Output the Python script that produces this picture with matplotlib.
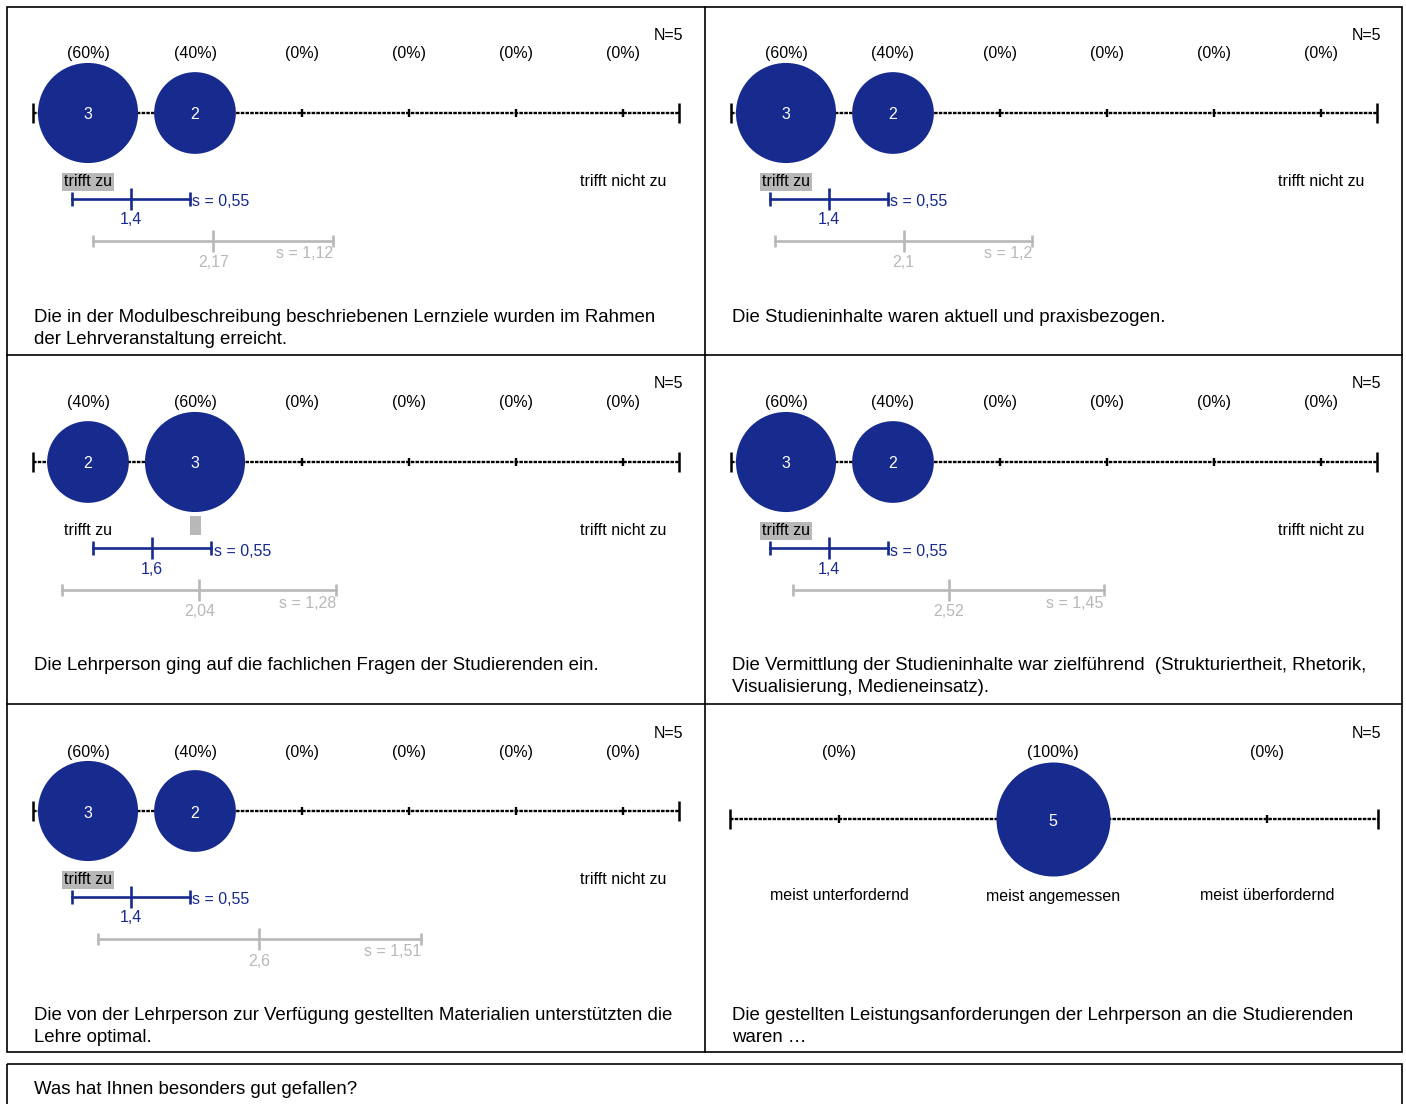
import matplotlib
matplotlib.use('Agg')
import matplotlib.pyplot as plt
from matplotlib.patches import Rectangle
import numpy as np

plt.rcParams['font.family'] = ['Liberation Sans', 'DejaVu Sans']

# ---- data ----
questions = [
    'Die in der Modulbeschreibung beschriebenen Lernziele wurden im Rahmen\nder Lehrveranstaltung erreicht.',
    'Die Studieninhalte waren aktuell und praxisbezogen.',
    'Die Lehrperson ging auf die fachlichen Fragen der Studierenden ein.',
    'Die Vermittlung der Studieninhalte war zielführend  (Strukturiertheit, Rhetorik,\nVisualisierung, Medieneinsatz).',
    'Die von der Lehrperson zur Verfügung gestellten Materialien unterstützten die\nLehre optimal.',
    'Die gestellten Leistungsanforderungen der Lehrperson an die Studierenden\nwaren \u2026',
]
labels6 = ['trifft zu', '', '', '', '', 'trifft nicht zu']
labels3 = ['meist unterfordernd', 'meist angemessen', 'meist überfordernd']
counts = [
    [3, 2, 0, 0, 0, 0],
    [3, 2, 0, 0, 0, 0],
    [2, 3, 0, 0, 0, 0],
    [3, 2, 0, 0, 0, 0],
    [3, 2, 0, 0, 0, 0],
    [0, 5, 0],
]
means = [1.4, 1.4, 1.6, 1.4, 1.4, None]
sds = [0.55, 0.55, 0.55, 0.55, 0.55, None]
cmp_means = [2.17, 2.1, 2.04, 2.52, 2.6, None]
cmp_sds = [1.12, 1.2, 1.28, 1.45, 1.51, None]
open_question = 'Was hat Ihnen besonders gut gefallen?'

BLUE = '#172a8e'
GREY = '#b8b8b8'
W, H = 1406, 1104
FS = 11.5
QFS = 13.4
DY = 2  # small vertical nudge for centred text


def fmt(v):
    return ('%g' % v).replace('.', ',')


fig = plt.figure(figsize=(W / 100, H / 100), dpi=100)
bg = fig.add_axes([0, 0, 1, 1])
bg.set_xlim(0, W)
bg.set_ylim(H, 0)
bg.axis('off')

# panel frames
bg.add_patch(Rectangle((7, 7), 1395, 1045, fill=False, lw=1.2, color='k'))
bg.plot([705, 705], [7, 1052], color='k', lw=1.2)
for yy in [355, 704]:
    bg.plot([7, 1402], [yy, yy], color='k', lw=1.2)
bg.add_patch(Rectangle((7, 1064), 1395, 80, fill=False, lw=1.2, color='k'))
bg.text(34, 1089, open_question, fontsize=QFS, va='center', ha='left')

col_x = [7, 705]
row_y = [7, 356, 705]
pw, ph = 698, 348

for i in range(6):
    x0 = col_x[i % 2]
    y0 = row_y[i // 2]
    c = np.array(counts[i])
    n = len(c)
    tot = c.sum()
    cats = np.arange(1, n + 1)
    if n == 6:
        first, step, k, yline, ylab = 81, 107, 28.9, 106, 173
        labs = labels6
    else:
        first, step, k, yline, ylab = 134, 214, 25.5, 114, 189
        labs = labels3

    ax = fig.add_axes([x0 / W, 1 - (y0 + ph) / H, pw / W, ph / H])
    ax.set_xlim(1 - first / step, 1 + (pw - first) / step)
    ax.set_ylim(ph, 0)
    ax.axis('off')

    # scale line
    ax.plot([0.49, n + 0.52], [yline, yline], color='k', lw=1.7,
            dashes=(1.5, 0.5), zorder=1)
    ax.plot(cats, [yline] * n, ls='none', marker='|', ms=6, mew=1.7,
            color='k', zorder=1)
    ax.plot([0.49, n + 0.52], [yline, yline], ls='none', marker='|', ms=15,
            mew=1.8, color='k', zorder=1)

    # bubbles
    nz = c > 0
    diam = 2 * k * np.sqrt(c[nz])
    ax.scatter(cats[nz], [yline] * nz.sum(), s=(diam * 0.72) ** 2,
               color=BLUE, linewidths=0, zorder=3)
    for xc, cnt in zip(cats[nz], c[nz]):
        ax.text(xc, yline + DY, str(cnt), color='white', fontsize=FS,
                ha='center', va='center', zorder=4)

    # percentages and N
    for xc, cnt in zip(cats, c):
        ax.text(xc, 45 + DY, '(%d%%)' % round(100 * cnt / tot), fontsize=FS,
                ha='center', va='center')
    bg.text(x0 + 676, y0 + 26 + DY, 'N=%d' % tot, fontsize=FS, ha='right',
            va='center')

    # median highlight + scale labels
    med = int(np.median(np.repeat(cats, c)))
    for xc, lab in zip(cats, labs):
        if not lab:
            continue
        hl = (xc == med) and n == 6
        ax.text(xc, ylab + DY, lab, fontsize=FS, ha='center', va='center',
                bbox=dict(boxstyle='square,pad=0.1', fc=GREY, ec='none') if hl else None)
    if n == 6 and not labs[med - 1]:
        ax.add_patch(Rectangle((med - 5.5 / step, 160), 11 / step, 19,
                               fc=GREY, ec='none'))

    # mean bars
    if means[i] is not None:
        m, s = means[i], sds[i]
        yb = 192
        ax.plot([m - s, m + s], [yb, yb], color=BLUE, lw=1.9)
        ax.plot([m - s, m + s], [yb, yb], ls='none', marker='|', ms=10,
                mew=1.9, color=BLUE)
        ax.plot([m], [yb], ls='none', marker='|', ms=16, mew=1.9, color=BLUE)
        ax.text(m, yb + 19 + DY, fmt(m), color=BLUE, fontsize=FS, ha='center',
                va='center')
        ax.annotate('s = ' + fmt(s), (m + s, yb + 1 + DY), xytext=(2, 0),
                    textcoords='offset points', color=BLUE, fontsize=FS,
                    ha='left', va='center')

        m, s = cmp_means[i], cmp_sds[i]
        yg = 234
        ax.plot([m - s, m + s], [yg, yg], color=GREY, lw=1.9)
        ax.plot([m - s, m + s], [yg, yg], ls='none', marker='|', ms=9,
                mew=1.9, color=GREY)
        ax.plot([m], [yg], ls='none', marker='|', ms=16, mew=1.9, color=GREY)
        ax.text(m, yg + 20 + DY, fmt(m), color=GREY, fontsize=FS, ha='center',
                va='center')
        ax.text(m + s, yg + 11 + DY, 's = ' + fmt(s), color=GREY, fontsize=FS,
                ha='right', va='center')

    # question text
    for j, line in enumerate(questions[i].split('\n')):
        bg.text(x0 + 27, y0 + 310 + 22 * j, line, fontsize=QFS,
                ha='left', va='center')

fig.savefig('out.png', dpi=100)
